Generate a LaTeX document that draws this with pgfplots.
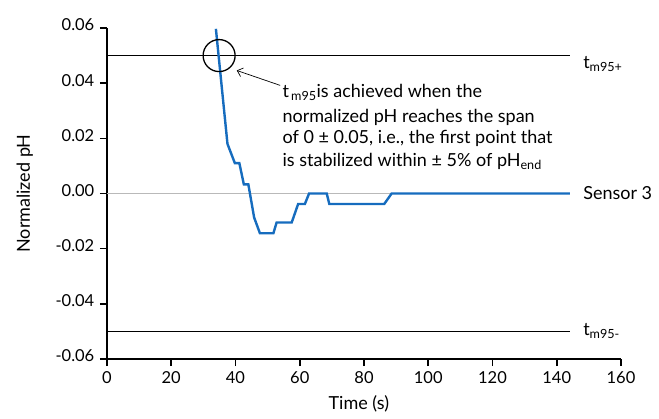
\documentclass[border=0pt]{standalone}
\usepackage{fontspec}
\setmainfont{Lato}
\usepackage{pgfplots}
\pgfplotsset{compat=1.18}
\usetikzlibrary{arrows.meta}
\definecolor{sensorblue}{RGB}{22,108,190}
\definecolor{zerogray}{RGB}{185,185,185}
\newcommand{\bigtext}{\fontsize{18bp}{22bp}\selectfont}
\begin{document}
\fontsize{16.5bp}{20bp}\selectfont
\begin{tikzpicture}
\begin{axis}[
  name=ax,
  scale only axis,
  width=514bp, height=331bp,
  xmin=0, xmax=160, ymin=-0.06, ymax=0.06,
  axis x line*=bottom, axis y line*=left,
  axis line style={line width=1.6bp},
  xtick={0,20,...,160},
  ytick={-0.06,-0.04,-0.02,0,0.02,0.04,0.06},
  tick align=outside,
  major tick length=7bp,
  tick style={line width=1.6bp, black},
  scaled y ticks=false,
  /pgf/number format/assume math mode=true,
  yticklabel style={/pgf/number format/fixed, /pgf/number format/fixed zerofill, /pgf/number format/precision=2, yshift=3bp},
  xticklabel style={/pgf/number format/fixed},
  xlabel={Time (s)},
  ylabel={Normalized pH},
  xlabel style={at={(axis description cs:0.49,-0.154)}, anchor=base, font=\bigtext},
  ylabel style={at={(axis description cs:-0.16,0.5)}, anchor=center, font=\bigtext},
  clip=false,
]
\addplot[zerogray, line width=1.3bp] coordinates {(0,0) (144.1,0)};
\addplot[black, line width=1.4bp] coordinates {(0,0.05) (144.1,0.05)};
\addplot[black, line width=1.4bp] coordinates {(0,-0.05) (144.1,-0.05)};
\addplot[sensorblue, line width=2.4bp] coordinates {
(33.9,0.0597) (37.5,0.018) (39.8,0.011) (41.2,0.011) (42.6,0.0033) (44.0,0.0033)
(45.8,-0.0087) (47.6,-0.0144) (51.8,-0.0144) (52.8,-0.0105) (57.5,-0.0105)
(59.5,-0.0038) (61.6,-0.0038) (62.9,0) (68.4,0) (69.2,-0.0038) (86.3,-0.0038)
(88.6,0) (144.1,0)
};
\draw[black, line width=1.3bp] (axis cs:34.9,0.05) circle[radius=16bp];
\draw[-{Straight Barb[length=5bp,width=9bp]}, line width=0.7bp] (axis cs:53.9,0.0392) -- (axis cs:40.4,0.0446);
\begin{scope}[every node/.style={font=\bigtext, inner sep=0pt}]
\node[anchor=base west] at (axis cs:54.6,0.0349) {t\textsubscript{\,m95}is achieved when the};
\node[anchor=base west] at (axis cs:54.6,0.02585) {normalized pH reaches the span};
\node[anchor=base west] at (axis cs:54.6,0.01813) {of 0 ± 0.05, i.e., the first point that};
\node[anchor=base west] at (axis cs:54.6,0.0099) {is stabilized within ± 5\% of pH\textsubscript{end}};
\node[anchor=base west] at (axis cs:148.2,0.0453) {t\textsubscript{m95+}};
\node[anchor=west] at (axis cs:148.2,0) {Sensor 3};
\node[anchor=base west] at (axis cs:148.2,-0.0515) {t\textsubscript{m95-}};
\end{scope}
\end{axis}
\useasboundingbox ([xshift=-107bp,yshift=-55bp]ax.south west) rectangle ([xshift=38bp,yshift=28bp]ax.north east);
\end{tikzpicture}
\end{document}
